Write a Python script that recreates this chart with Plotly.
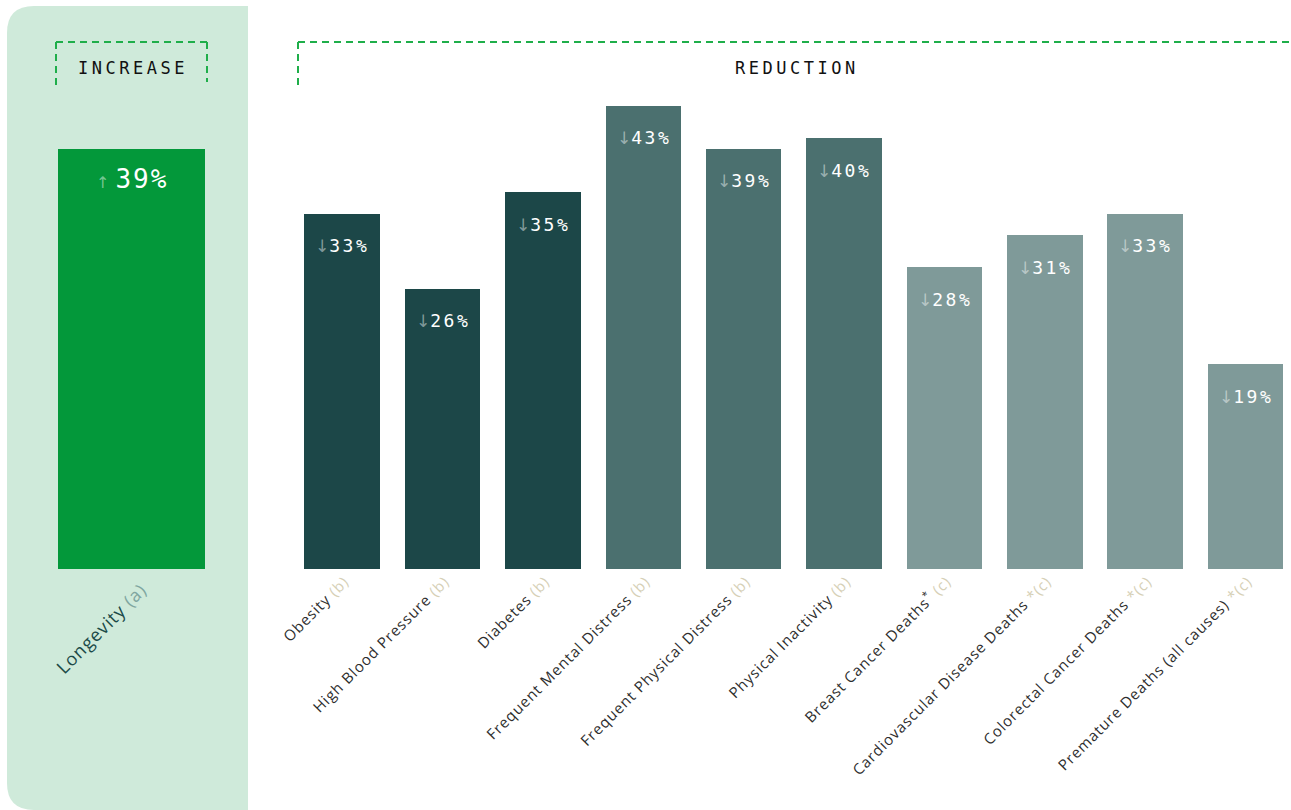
import plotly.graph_objects as go

W, H = 1291, 810

# ---- data -------------------------------------------------------------
increase_cat = ["Longevity"]
increase_ref = ["(a)"]
increase_val = [39]

reduction_cat = [
    "Obesity", "High Blood Pressure", "Diabetes", "Frequent Mental Distress",
    "Frequent Physical Distress", "Physical Inactivity", "Breast Cancer Deaths",
    "Cardiovascular Disease Deaths", "Colorectal Cancer Deaths",
    "Premature Deaths (all causes)",
]
reduction_mark = ["", "", "", "", "", "", "*", "", "", ""]
reduction_ref = ["(b)"] * 6 + ["(c)", "*(c)", "*(c)", "*(c)"]
reduction_val = [33, 26, 35, 43, 39, 40, 28, 31, 33, 19]

# ---- style ------------------------------------------------------------
GREEN = "#03983a"
PANEL = "#cfeada"
DASH_GREEN = "#1fae4a"
DARK, MID, LIGHT = "#1c4748", "#4b706f", "#7f9a99"
reduction_colors = [DARK] * 3 + [MID] * 3 + [LIGHT] * 4
REF_COLOR = "#d6d0b6"
LABEL_FONT = "Open Sans"
MONO = "DejaVu Sans Mono"
PX_PER_UNIT = 10.77
BASE_PX = 569  # pixel row of the zero line


def px(x):
    return x / W


def py(y):
    return 1 - y / H


y_top = BASE_PX / PX_PER_UNIT

fig = go.Figure()

fig.add_trace(go.Bar(
    x=increase_cat, y=increase_val, width=1, marker_color=GREEN,
    marker_line_width=0, xaxis="x", yaxis="y", showlegend=False,
))
fig.add_trace(go.Bar(
    x=reduction_cat, y=reduction_val, width=0.752, marker_color=reduction_colors,
    marker_line_width=0, xaxis="x2", yaxis="y2", showlegend=False,
))

# tick labels
inc_ticktext = [
    f"<span style='letter-spacing:1px'>{c} <span style='color:#7fa6a0'>{r}</span></span>"
    for c, r in zip(increase_cat, increase_ref)
]
red_ticktext = []
for c, m, r in zip(reduction_cat, reduction_mark, reduction_ref):
    star = f"<sup>{m}</sup>" if m else ""
    red_ticktext.append(
        f"<span style='letter-spacing:0.9px'>{c}{star} "
        f"<span style='color:{REF_COLOR}'>{r}</span></span>"
    )

fig.update_layout(
    width=W, height=H,
    margin=dict(l=0, r=0, t=0, b=0, pad=0, autoexpand=False),
    paper_bgcolor="white", plot_bgcolor="rgba(0,0,0,0)",
    bargap=0,
    xaxis=dict(
        domain=[px(58), px(205)], range=[-0.5, 0.5], type="category",
        tickmode="array", tickvals=increase_cat, ticktext=inc_ticktext,
        tickangle=-45, ticks="", showline=False, showgrid=False, zeroline=False,
        tickfont=dict(family=LABEL_FONT, size=18, color="#1c4a48"),
        ticklabelstandoff=6, ticklabelshift=10,
        anchor="y", automargin=False,
    ),
    yaxis=dict(
        domain=[py(BASE_PX), 1], range=[0, y_top], visible=False, anchor="x",
        automargin=False,
    ),
    xaxis2=dict(
        domain=[px(292.3), 1], range=[-0.5, 9.45], type="category",
        tickmode="array", tickvals=reduction_cat, ticktext=red_ticktext,
        tickangle=-45, ticks="", showline=False, showgrid=False, zeroline=False,
        tickfont=dict(family=LABEL_FONT, size=15, color="#2e2e2e"),
        ticklabelshift=2,
        anchor="y2", automargin=False,
    ),
    yaxis2=dict(
        domain=[py(BASE_PX), 1], range=[0, y_top], visible=False, anchor="x2",
        automargin=False,
    ),
)

shapes = []
# rounded panel behind the "increase" group
r = 27
path = (
    f"M {px(248)} {py(6)} L {px(7 + r)} {py(6)} "
    f"Q {px(7)} {py(6)} {px(7)} {py(6 + r)} "
    f"L {px(7)} {py(810 - r)} Q {px(7)} {py(810)} {px(7 + r)} {py(810)} "
    f"L {px(248)} {py(810)} Z"
)
shapes.append(dict(type="path", path=path, xref="paper", yref="paper",
                   fillcolor=PANEL, line_width=0, layer="below"))

dash_line = dict(color=DASH_GREEN, width=2, dash="7px,5px")


def seg(x0, y0, x1, y1):
    return dict(type="line", xref="paper", yref="paper",
                x0=px(x0), y0=py(y0), x1=px(x1), y1=py(y1), line=dash_line)


# INCREASE bracket
shapes += [seg(56, 42, 207, 42), seg(56, 42, 56, 87), seg(207, 42, 207, 82)]
# REDUCTION bracket
shapes += [seg(298, 42, 1291, 42), seg(298, 42, 298, 87)]

annotations = [
    dict(xref="paper", yref="paper", x=px(133), y=py(68), showarrow=False,
         xanchor="center", yanchor="middle",
         text="<span style='letter-spacing:3.5px'>INCREASE</span>",
         font=dict(family=MONO, size=17, color="#111111")),
    dict(xref="paper", yref="paper", x=px(797), y=py(68), showarrow=False,
         xanchor="center", yanchor="middle",
         text="<span style='letter-spacing:3.5px'>REDUCTION</span>",
         font=dict(family=MONO, size=17, color="#111111")),
]

ARROW = "rgba(255,255,255,0.45)"
ARROW_FONT = "DejaVu Sans"
for c, v in zip(increase_cat, increase_val):
    annotations.append(dict(
        xref="x", yref="y", x=c, y=v, yshift=-30, showarrow=False,
        xanchor="center", yanchor="middle",
        text=(f"<span style='color:{ARROW};font-size:16px;font-family:{ARROW_FONT}'>↑</span>"
              f"<span style='font-size:10px'> </span>"
              f"<span style='letter-spacing:2px'>{v}%</span>"),
        font=dict(family=MONO, size=26, color="white"),
    ))
for c, v in zip(reduction_cat, reduction_val):
    annotations.append(dict(
        xref="x2", yref="y2", x=c, y=v, yshift=-32, showarrow=False,
        xanchor="center", yanchor="middle",
        text=(f"<span style='color:{ARROW};font-size:17px;font-family:{ARROW_FONT}'>↓</span>"
              f"<span style='letter-spacing:2.5px'>{v}%</span>"),
        font=dict(family=MONO, size=18, color="white"),
    ))

fig.update_layout(shapes=shapes, annotations=annotations)

fig.write_html("out.html")
